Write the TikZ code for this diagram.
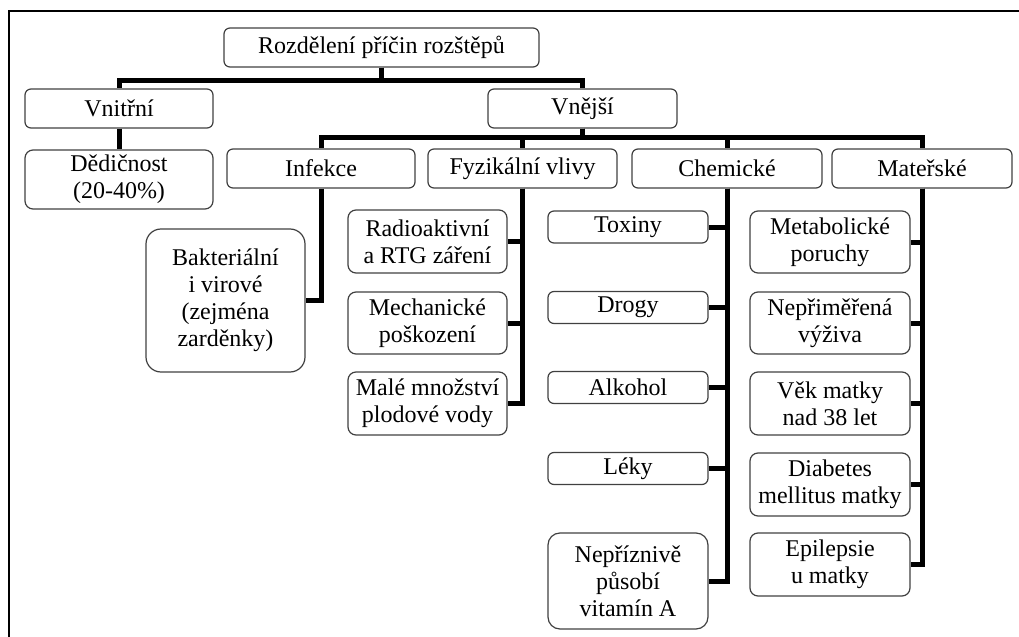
\documentclass[tikz,border=0pt]{standalone}
\usepackage{fontspec}
\setmainfont{Liberation Serif}

\begin{document}
\begin{tikzpicture}[x=0.5pt,y=-0.5pt]
			\tikzstyle{box} = [draw=black!75, line width=0.6pt, rounded corners=3pt, align=center, inner sep=0pt, font=\fontsize{12}{13.5}\selectfont]
			\tikzstyle{con} = [line width=2.5pt]
			\useasboundingbox (0,0) rectangle (1019,637);
			\draw [line width=1pt] (1019,11) -- (9,11) -- (9,637);
			\node [box, minimum width=157.5pt, minimum height=19.5pt] (v1) at (381.5,47.5) {Rozdělení příčin rozštěpů};
			\node [box, minimum width=94pt, minimum height=19.5pt] (v2) at (119,108.5) {Vnitřní};
			\node [box, minimum width=94.5pt, minimum height=19.5pt] (v3) at (582.5,108.5) {Vnější};
			\node [box, minimum width=94pt, minimum height=29.5pt, rounded corners=4pt] (v4) at (119,179.5) {Dědičnost\\(20-40\%)};
			\node [box, minimum width=94pt, minimum height=19.5pt] (v5) at (321,168.5) {Infekce};
			\node [box, minimum width=94.5pt, minimum height=19.5pt] (v6) at (522.5,168.5) {Fyzikální vlivy};
			\node [box, minimum width=95pt, minimum height=19.5pt] (v7) at (727,168.5) {Chemické};
			\node [box, minimum width=90pt, minimum height=19.5pt] (v8) at (922,168.5) {Mateřské};
			\node [box, minimum width=79.5pt, minimum height=71.5pt, rounded corners=7.5pt] (v9) at (225.5,300.5) {Bakteriální\\i virové\\(zejména\\zarděnky)};
			\node [box, minimum width=79.5pt, minimum height=31.5pt, rounded corners=4pt] (v10) at (427.5,241.5) {Radioaktivní\\a RTG záření};
			\node [box, minimum width=79.5pt, minimum height=31pt, rounded corners=4pt] (v11) at (427.5,323) {Mechanické\\poškození};
			\node [box, minimum width=79.5pt, minimum height=31.5pt, rounded corners=4pt] (v12) at (427.5,403.5) {Malé množství\\plodové vody};
			\node [box, minimum width=80pt, minimum height=16pt] (v13) at (628,227) {Toxiny};
			\node [box, minimum width=80pt, minimum height=16pt] (v14) at (628,307.5) {Drogy};
			\node [box, minimum width=80pt, minimum height=16pt] (v15) at (628,387.5) {Alkohol};
			\node [box, minimum width=80pt, minimum height=16pt] (v16) at (628,468.5) {Léky};
			\node [box, minimum width=80pt, minimum height=48pt, rounded corners=6pt] (v17) at (628,581) {Nepříznivě\\působí\\vitamín A};
			\node [box, minimum width=80pt, minimum height=31pt, rounded corners=4pt] (v18) at (830,242) {Metabolické\\poruchy};
			\node [box, minimum width=80pt, minimum height=31pt, rounded corners=4pt] (v19) at (830,323) {Nepřiměřená\\výživa};
			\node [box, minimum width=80pt, minimum height=31.5pt, rounded corners=4pt] (v20) at (830,403.5) {Věk matky\\nad 38 let};
			\node [box, minimum width=80pt, minimum height=31.5pt, rounded corners=4pt] (v21) at (830,484.5) {Diabetes\\mellitus matky};
			\node [box, minimum width=80pt, minimum height=31.5pt, rounded corners=4pt] (v22) at (830,564.5) {Epilepsie\\u matky};
			\draw [con] (v1.south) -- ++(0,13) -| (v2.north);
			\draw [con] (v1.south) -- ++(0,13) -| (v3.north);
			\draw [con] (v2.south) -- (v4.north);
			\draw [con] (v3.south) -- ++(0,9) -| (v5.north);
			\draw [con] (v3.south) -- ++(0,9) -| (v6.north);
			\draw [con] (v3.south) -- ++(0,9) -| (v7.north);
			\draw [con] (v3.south) -- ++(0,9) -| (v8.north);
			\draw [con] (v5.south) |- (v9.east);
			\draw [con] (v6.south) |- (v10.east);
			\draw [con] (v6.south) |- (v11.east);
			\draw [con] (v6.south) |- (v12.east);
			\draw [con] (v7.south) |- (v13.east);
			\draw [con] (v7.south) |- (v14.east);
			\draw [con] (v7.south) |- (v15.east);
			\draw [con] (v7.south) |- (v16.east);
			\draw [con] (v7.south) |- (v17.east);
			\draw [con] (v8.south) |- (v18.east);
			\draw [con] (v8.south) |- (v19.east);
			\draw [con] (v8.south) |- (v20.east);
			\draw [con] (v8.south) |- (v21.east);
			\draw [con] (v8.south) |- (v22.east);
		\end{tikzpicture}
\end{document}
